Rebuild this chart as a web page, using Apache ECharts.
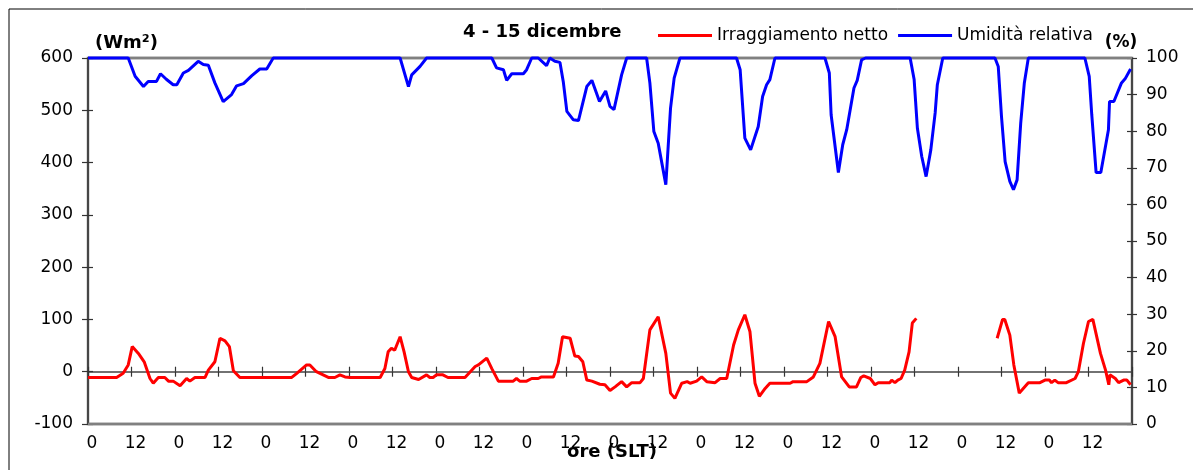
<!DOCTYPE html>
<html>
<head>
<meta charset="utf-8">
<script src="https://cdn.jsdelivr.net/npm/echarts@6/dist/echarts.min.js"></script>
<style>html,body{margin:0;padding:0;background:#fff;}#c{width:1193px;height:470px;}</style>
</head>
<body>
<div id="c"></div>
<script>
// ---- data (hours since 4 Dec 00:00) ----
const xTickLabels = ['0','12','0','12','0','12','0','12','0','12','0','12','0','12','0','12','0','12','0','12','0','12','0','12',''];
const leftTicks = [-100, 0, 100, 200, 300, 400, 500, 600];
const rightTicks = [0, 10, 20, 30, 40, 50, 60, 70, 80, 90, 100];

const rhHours = [0, 11.1, 13, 15.3, 16.6, 18.9, 20.0, 21.6, 23.5, 24.5, 26.3, 27.7, 30.4, 31.8, 33.2, 35.0, 37.3, 39.6, 41.0, 42.9, 45.2, 47.4, 49.3, 51.1,
  86.1, 88.4, 89.3, 91.6, 93.4, 111.4, 112.7, 114.6, 115.5, 116.9, 120.1, 121.0, 122.4, 124.2, 126.5, 127.4, 128.8, 130.2, 131.1, 132.1, 133.9, 135.3,
  137.6, 139.0, 141.1, 142.8, 144.0, 145.1, 147.2, 148.6, 154.1, 155.0, 156.1, 157.3, 159.4, 160.7, 161.7, 163.3,
  178.9, 179.9, 181.2, 182.8, 184.9, 186.1, 187.2, 188.1, 189.5, 203.3, 204.5, 205.0, 207.0, 208.2, 209.3, 211.3, 212.2, 213.4, 214.5,
  226.8, 227.9, 228.8, 230.0, 231.2, 232.5, 233.7, 234.3, 235.8, 250.2, 251.1, 252.0, 253.0, 254.3, 255.3, 256.3, 257.3, 258.3, 259.4,
  275.0, 276.2, 276.9, 278.1, 279.4, 281.5, 281.8, 283.0, 285.1, 286.1, 287.6];
const rhValues = [100, 100, 95.0, 92.2, 93.6, 93.6, 95.7, 94.2, 92.7, 92.7, 95.9, 96.6, 99.1, 98.2, 98.0, 93.2, 88.1, 90.0, 92.4, 93.0, 95.2, 97.0, 97.0, 100,
  100, 92.2, 95.4, 97.7, 100, 100, 97.3, 96.8, 93.9, 95.7, 95.7, 96.8, 100, 100, 97.9, 100, 99.1, 98.8, 93.6, 85.4, 83.1, 82.9,
  92.2, 93.9, 88.1, 91.0, 86.8, 85.9, 95.4, 100, 100, 93.2, 79.9, 76.7, 65.4, 86.3, 94.5, 100,
  100, 96.8, 78.1, 74.9, 81.3, 89.5, 92.7, 94.1, 100, 100, 95.9, 84.5, 68.7, 76.3, 80.4, 91.8, 93.9, 99.5, 100,
  100, 94.1, 80.8, 73.1, 67.6, 74.9, 85.0, 92.7, 100, 100, 97.7, 84.0, 71.7, 66.3, 64.0, 66.7, 82.2, 93.2, 100,
  100, 95.0, 84.5, 68.7, 68.7, 80.4, 88.1, 88.1, 93.2, 94.3, 97.0];

const radHours = [0, 7.9, 9.7, 11.1, 12.2, 13.9, 15.5, 17.1, 18.0, 19.4, 21.2, 22.2, 23.5, 25.4, 27.2, 28.1, 29.5, 32.3, 33.2, 35.0, 35.5, 36.4, 37.8, 39.0, 40.1, 41.9,
  56.2, 57.6, 60.3, 61.2, 63.0, 66.3, 68.1, 69.5, 70.9, 72.3, 80.6, 81.9, 82.8, 83.7, 84.6, 86.1, 87.2, 88.4, 89.3, 91.2, 93.4, 94.3, 95.2, 96.1, 97.9, 99.3,
  104.0, 106.8, 107.7, 110.0, 111.4, 113.2, 117.3, 118.2, 119.1, 121.0, 122.4, 124.2, 125.1, 128.4, 129.7, 130.9, 133.0, 134.3, 135.3, 136.5, 137.6, 139.0,
  141.2, 142.6, 144.0, 145.4, 147.2, 148.6, 150.0, 152.3, 153.2, 155.0, 157.3, 159.4, 160.7, 161.9, 163.8, 165.3, 166.1, 167.9, 169.3, 170.7, 173.0, 174.4, 176.2,
  178.1, 179.4, 181.2, 182.6, 184.0, 185.2, 186.8, 188.1, 193.7, 194.5, 198.3, 200.1, 201.9, 204.3, 206.1, 207.9, 210.0, 212.0, 213.2, 214.0, 215.8, 217.1, 218.0,
  221.2, 221.7, 222.6, 223.4, 224.3, 225.3, 226.5, 227.4, 228.5, 239.0,
  250.8, 252.3, 252.9, 254.3, 255.4, 256.9, 258.0, 259.4, 262.6, 264.0, 265.2, 265.8, 266.7, 267.6, 269.9, 272.3, 273.2, 274.6, 276.0, 277.2, 279.3, 280.7,
  281.6, 281.9, 283.4, 284.3, 285.7, 286.6, 287.6];
const radValues = [-11, -11, -3, 13, 48, 35, 19, -13, -22, -11, -11, -18, -18, -27, -13, -18, -11, -11, 3, 19, 22, 64, 59, 48, 2, -11,
  -11, -3, 13, 13, 0, -11, -11, -6, -10, -11, -11, 6, 38, 45, 41, 67, 38, 0, -11, -15, -6, -11, -11, -6, -6, -11,
  -11, 10, 13, 26, 6, -18, -18, -13, -18, -18, -13, -13, -10, -10, 16, 67, 64, 30, 29, 19, -16, -18,
  -24, -25, -36, -29, -19, -29, -21, -21, -13, 80, 105, 35, -41, -51, -22, -19, -22, -18, -10, -19, -21, -13, -13,
  51, 80, 109, 77, -22, -47, -32, -22, -22, -19, -19, -10, 16, 96, 67, -10, -29, -29, -11, -8, -13, -25, -21,
  -21, -16, -21, -16, -13, 3, 38, 93, 102, null,
  64, 100, 100, 70, 13, -41, -32, -21, -21, -16, -16, -21, -16, -21, -21, -13, 0, 54, 96, 100, 35, 3,
  -25, -6, -13, -21, -16, -16, -25];

const FONT = '"DejaVu Sans", sans-serif';
const zip = (xs, ys) => xs.map((x, i) => [x, ys[i] === null ? '-' : ys[i]]);

const chart = echarts.init(document.getElementById('c'));
const axisDark = '#333333';
const frameGray = '#808080';
const xEnd = (xTickLabels.length - 1) * 12;
const frameSeries = v => ({
  type: 'line', xAxisIndex: 0, yAxisIndex: 0, silent: true, showSymbol: false, clip: false, z: 1,
  data: [[0, v], [xEnd, v]], lineStyle: { color: frameGray, width: 2.5 }, itemStyle: { color: frameGray },
  tooltip: { show: false }, emphasis: { disabled: true }
});

chart.setOption({
  animation: false,
  backgroundColor: '#ffffff',
  grid: { left: 88, right: 61, top: 58, bottom: 46, show: true, borderColor: frameGray, borderWidth: 2.5 },
  legend: {
    left: 653, top: 22, itemWidth: 54, itemHeight: 3, itemGap: 10, icon: 'rect',
    textStyle: { fontFamily: FONT, fontSize: 17, color: '#000' },
    data: ['Irraggiamento netto', 'Umidità relativa']
  },
  xAxis: [
    {
      type: 'value', min: 0, max: xEnd, interval: 12, position: 'bottom',
      axisLine: { onZero: true, onZeroAxisIndex: 0, lineStyle: { color: '#444', width: 1.5 } },
      axisTick: { show: true, length: 5, lineStyle: { color: axisDark, width: 1.2 } },
      axisLabel: {
        margin: 11, fontFamily: FONT, fontSize: 17, color: '#000', padding: [0, 0, 0, 8],
        showMaxLabel: true, showMinLabel: true,
        formatter: v => xTickLabels[Math.round(v / 12)]
      },
      splitLine: { show: false }
    },
    {
      type: 'value', min: 0, max: xEnd, interval: 12, position: 'bottom',
      axisLine: { show: false, onZero: true, onZeroAxisIndex: 0 },
      axisTick: { show: true, inside: true, length: 5, lineStyle: { color: axisDark, width: 1.2 } },
      axisLabel: { show: false }, splitLine: { show: false }
    }
  ],
  yAxis: [
    {
      type: 'value', min: -100, max: 600, interval: 100, position: 'left',
      axisLine: { show: true, onZero: false, lineStyle: { color: axisDark, width: 1.5 } },
      axisTick: { show: true, length: 6, lineStyle: { color: axisDark, width: 1.2 } },
      axisLabel: { margin: 15, fontFamily: FONT, fontSize: 17, color: '#000',
        formatter: v => String(leftTicks[Math.round((v + 100) / 100)]) },
      splitLine: { show: false }
    },
    {
      type: 'value', min: 0, max: 100, interval: 10, position: 'right',
      axisLine: { show: true, onZero: false, lineStyle: { color: axisDark, width: 1.5 } },
      axisTick: { show: true, length: 5, lineStyle: { color: axisDark, width: 1.2 } },
      axisLabel: { margin: 14, fontFamily: FONT, fontSize: 17, color: '#000',
        formatter: v => String(rightTicks[Math.round(v / 10)]) },
      splitLine: { show: false }
    },
    {
      type: 'value', min: -100, max: 600, interval: 100, position: 'left',
      axisLine: { show: false, onZero: false },
      axisTick: { show: true, inside: true, length: 5, lineStyle: { color: axisDark, width: 1.2 } },
      axisLabel: { show: false }, splitLine: { show: false }
    },
    {
      type: 'value', min: 0, max: 100, interval: 10, position: 'right',
      axisLine: { show: false, onZero: false },
      axisTick: { show: true, inside: true, length: 5, lineStyle: { color: axisDark, width: 1.2 } },
      axisLabel: { show: false }, splitLine: { show: false }
    }
  ],
  series: [
    frameSeries(leftTicks[leftTicks.length - 1]),
    frameSeries(leftTicks[0]),
    {
      name: 'Irraggiamento netto', type: 'line', xAxisIndex: 0, yAxisIndex: 0,
      data: zip(radHours, radValues), showSymbol: false, connectNulls: false, clip: false,
      lineStyle: { color: '#ff0000', width: 3 }, itemStyle: { color: '#ff0000' }, z: 3
    },
    {
      name: 'Umidità relativa', type: 'line', xAxisIndex: 0, yAxisIndex: 1,
      data: zip(rhHours, rhValues), showSymbol: false, clip: false,
      lineStyle: { color: '#0000ff', width: 3 }, itemStyle: { color: '#0000ff' }, z: 4
    }
  ],
  graphic: [
    { type: 'polyline', shape: { points: [[9, 480], [9, 9], [1200, 9]] }, style: { stroke: '#000', lineWidth: 1, fill: 'none' }, silent: true },
    { type: 'text', style: { text: '4 - 15 dicembre', x: 463, y: 32, font: 'bold 18px ' + FONT, fill: '#000', align: 'left', verticalAlign: 'middle' } },
    { type: 'text', style: { text: '(Wm²)', x: 95, y: 43, font: 'bold 18px ' + FONT, fill: '#000', align: 'left', verticalAlign: 'middle' } },
    { type: 'text', style: { text: '(%)', x: 1121, y: 43, font: 'bold 17px ' + FONT, fill: '#000', align: 'center', verticalAlign: 'middle' } },
    { type: 'text', style: { text: 'ore (SLT)', x: 612, y: 452, font: 'bold 18px ' + FONT, fill: '#000', align: 'center', verticalAlign: 'middle' } }
  ]
});
</script>
</body>
</html>
